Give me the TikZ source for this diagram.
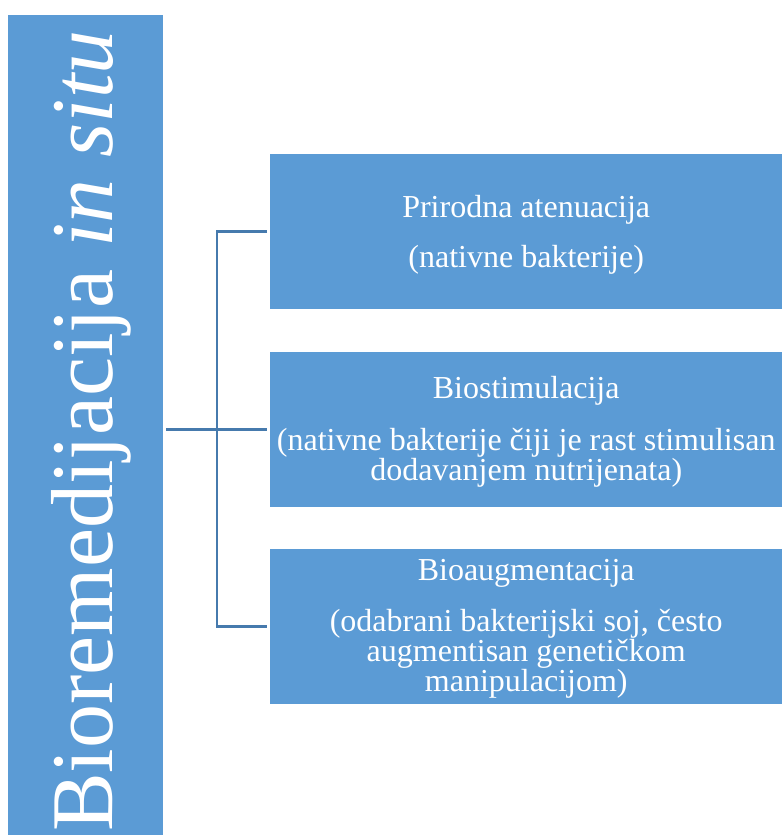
\documentclass[tikz,border=0pt]{standalone}
\usepackage{fontspec}
\setmainfont{Liberation Serif}
\definecolor{boxblue}{RGB}{91,155,213}
\definecolor{linkblue}{RGB}{70,122,173}
\tikzset{
  bluebox/.style={fill=boxblue, draw=none, inner sep=0pt, anchor=north west},
  itemtext/.style={text=white, align=center, inner sep=0pt,
    font=\fontsize{32}{27.5}\selectfont},
  link/.style={draw=linkblue, line width=2.5pt}
}
\begin{document}
\begin{tikzpicture}[x=1pt,y=-1pt]
\useasboundingbox (0,0) rectangle (782,836);
% left vertical box
\node[bluebox, minimum width=155pt, minimum height=820pt] (root) at (8,15) {};
\node[rotate=90, anchor=base, inner sep=0pt, text=white,
  font=\fontsize{88}{88}\selectfont] (roottext) at (112,431)
  {Bioremedijacija \textit{in situ}};
% right boxes
\node[bluebox, minimum width=512pt, minimum height=155pt] (b1) at (270,154) {};
\node[bluebox, minimum width=512pt, minimum height=155pt] (b2) at (270,352) {};
\node[bluebox, minimum width=512pt, minimum height=155pt] (b3) at (270,549) {};
\node[itemtext] (t1) at ([yshift=-3pt]b1.center)
  {Prirodna atenuacija\\[19.5pt](nativne bakterije)};
\node[itemtext] (t2) at ([yshift=-2pt]b2.center)
  {Biostimulacija\\[22pt](nativne bakterije čiji je rast stimulisan\\dodavanjem nutrijenata)};
\node[itemtext] (t3) at ([yshift=-2pt]b3.center)
  {Bioaugmentacija\\[20.5pt](odabrani bakterijski soj, često\\augmentisan genetičkom\\manipulacijom)};
% connectors
\draw[link] ([xshift=3pt]root.east |- b2.west) -- ([xshift=-3pt]b2.west);
\draw[link] ([xshift=-3pt]b1.west) -| ([xshift=-53pt]b3.west) -- ([xshift=-3pt]b3.west);
\end{tikzpicture}
\end{document}
